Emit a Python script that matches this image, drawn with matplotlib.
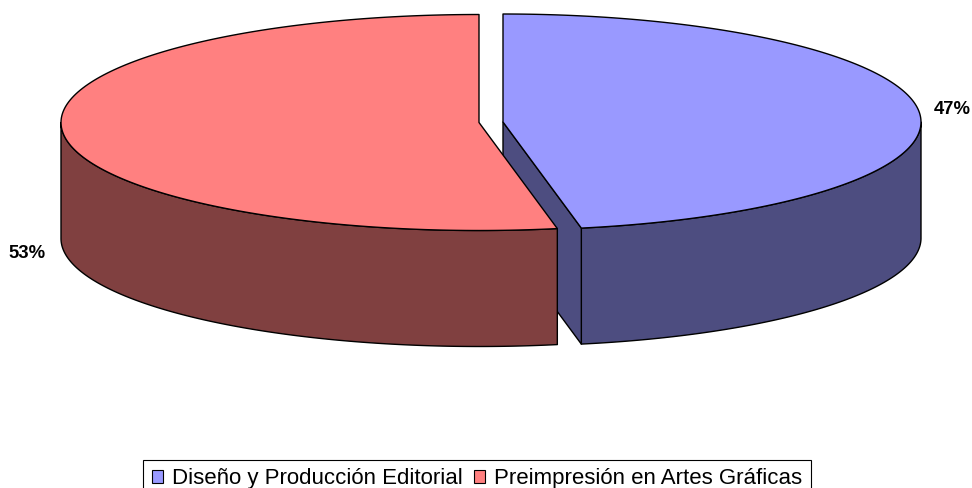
import matplotlib
matplotlib.use('Agg')
import matplotlib.pyplot as plt
from matplotlib.patches import Polygon, Patch
import numpy as np

categories = ['Diseño y Producción Editorial', 'Preimpresión en Artes Gráficas']
shares = [47, 53]
pct_labels = ['47%', '53%']
top_colors = ['#9999FF', '#FF8080']
side_colors = ['#4D4D80', '#804040']

# layout, in pixels of the picture
rx = 418
ry = 108
depth = 116
centers = [(503, 122), (479, 122.5)]
label_pos = [(952, 109), (27, 254)]


def rim(cx, cy, t):
    # t goes clockwise from the top of the ellipse
    return np.column_stack([cx + rx * np.sin(t), cy - ry * np.cos(t)])


def arc(a, b):
    return np.radians(np.linspace(a, b, 180))


def add_poly(ax, pts, color):
    ax.add_patch(Polygon(pts, closed=True, facecolor=color, edgecolor='black',
                         linewidth=1.0, joinstyle='round'))


def draw_pie():
    plt.rcParams['font.family'] = ['Liberation Sans', 'DejaVu Sans']
    fig = plt.figure(figsize=(9.72, 4.88), dpi=100)
    ax = fig.add_axes([0, 0, 1, 1])
    ax.set_xlim(0, 972)
    ax.set_ylim(488, 0)
    ax.axis('off')

    start = 0
    for i, share in enumerate(shares):
        end = start + share / sum(shares) * 360
        cx, cy = centers[i]
        down = np.array([0, depth])

        # outer wall, only the front half of the rim shows
        lo, hi = max(start, 90), min(end, 270)
        front = rim(cx, cy, arc(lo, hi))
        add_poly(ax, np.vstack([front, (front + down)[::-1]]), side_colors[i])

        # cut face of the slice when it looks towards the viewer
        if end < 180:
            tip = rim(cx, cy, np.radians([end]))[0]
            apex = np.array([cx, cy])
            add_poly(ax, [apex, tip, tip + down, apex + down], side_colors[i])

        top = rim(cx, cy, arc(start, end))
        add_poly(ax, np.vstack([[cx, cy], top]), top_colors[i])

        ax.text(label_pos[i][0], label_pos[i][1], pct_labels[i], fontsize=13.3,
                fontweight='bold', ha='center', va='center', color='black')
        start = end

    handles = [Patch(facecolor=c, edgecolor='black', linewidth=0.8) for c in top_colors]
    leg = fig.legend(handles, categories, loc='upper center', bbox_to_anchor=(0.491, 1 - 459.5 / 488),
                     ncol=2, fontsize=16, frameon=True, fancybox=False, edgecolor='black',
                     framealpha=1, borderpad=0.4, handlelength=0.5, handleheight=0.5,
                     handletextpad=0.4, columnspacing=0.5, borderaxespad=0)
    leg.get_frame().set_linewidth(0.8)

    fig.savefig('out.png', dpi=100, facecolor='white')


if __name__ == "__main__":
    draw_pie()
